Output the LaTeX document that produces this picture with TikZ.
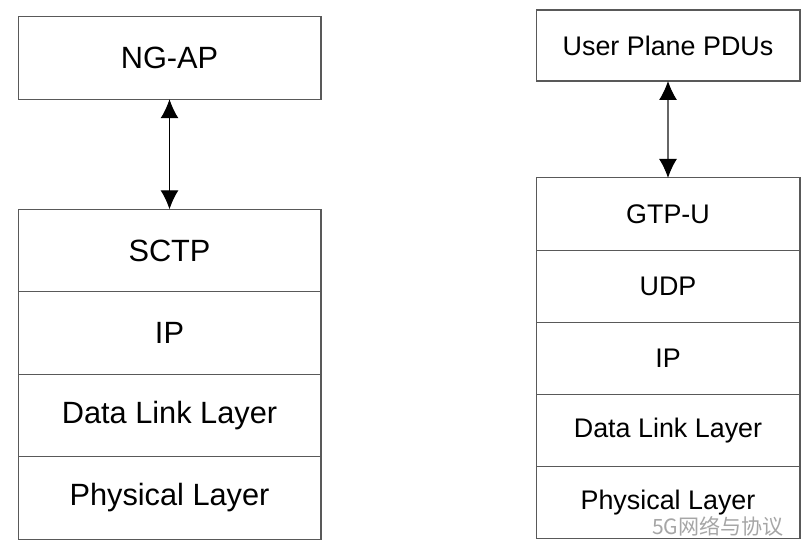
\documentclass[tikz,border=0pt]{standalone}
\usepackage{fontspec}
\setmainfont{Liberation Sans}
\newfontfamily\cjkfont{Noto Sans CJK SC}
\usepackage{tikz}
\usetikzlibrary{positioning,arrows.meta}
\tikzset{
every path/.style={line width=0.6pt}
, layerbox/.style={draw=black!65,outer sep=0,inner sep=0,minimum width=6.06cm,minimum height=1.65cm,font=\fontsize{17.5}{20}\selectfont}
, userbox/.style={draw=black!65,outer sep=0,inner sep=0,minimum width=5.28cm,minimum height=1.444cm,font=\fontsize{15.3}{18}\selectfont}
, stackarrow/.style={{Latex[length=0.38cm,width=0.36cm,color=black]}-{Latex[length=0.38cm,width=0.36cm,color=black]}}
, watermark/.style={color=black!35,font=\cjkfont\fontsize{12}{14}\selectfont}}

\begin{document}
\begin{tikzpicture}[x=0.02cm,y=-0.02cm]
\useasboundingbox (0,0) rectangle (808,549);
% control plane
\node[layerbox] at (169.5,58) (ngap) {NG-AP};
\node[layerbox] at (169.5,250.5) (sctp) {SCTP};
\node[layerbox, below=0 of sctp] (ipL) {IP};
\node[layerbox, below=0 of ipL] (dllL) {Data Link Layer};
\node[layerbox, below=0 of dllL] (phyL) {Physical Layer};
\draw [stackarrow] (ngap) -- (sctp);
% user plane
\node[userbox, minimum height=1.42cm] at (668,45.5) (updu) {User Plane PDUs};
\node[userbox] at (668,214) (gtpu) {GTP-U};
\node[userbox, below=0 of gtpu] (udp) {UDP};
\node[userbox, below=0 of udp] (ipR) {IP};
\node[userbox, below=0 of ipR] (dllR) {Data Link Layer};
\node[userbox, below=0 of dllR] (phyR) {Physical Layer};
\draw [stackarrow, draw=black!60] (updu) -- (gtpu);
\node[watermark] at (718,526) (wm) {5G网络与协议};
\end{tikzpicture}
\end{document}
